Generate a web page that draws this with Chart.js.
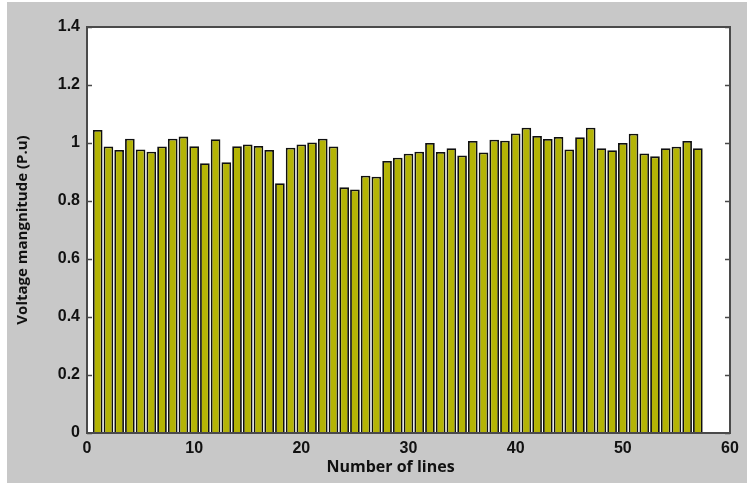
<!DOCTYPE html>
<html>
<head>
<meta charset="utf-8">
<script src="https://cdn.jsdelivr.net/npm/chart.js@4/dist/chart.umd.min.js"></script>
<style>
  html, body { margin: 0; padding: 0; background: #ffffff; }
  #wrap { width: 747px; height: 483px; position: relative; }
</style>
</head>
<body>
<div id="wrap"><canvas id="c" width="747" height="483"></canvas></div>
<script>
// Line numbers and per-line voltage magnitude (p.u.)
const lineNumbers = [1, 2, 3, 4, 5, 6, 7, 8, 9, 10, 11, 12, 13, 14, 15, 16, 17, 18, 19, 20,
  21, 22, 23, 24, 25, 26, 27, 28, 29, 30, 31, 32, 33, 34, 35, 36, 37, 38, 39, 40,
  41, 42, 43, 44, 45, 46, 47, 48, 49, 50, 51, 52, 53, 54, 55, 56, 57];
const voltage = [1.045, 0.988, 0.976, 1.015, 0.978, 0.970, 0.988, 1.015, 1.022, 0.989,
  0.930, 1.013, 0.934, 0.989, 0.995, 0.990, 0.976, 0.861, 0.984, 0.995,
  1.002, 1.015, 0.988, 0.847, 0.840, 0.887, 0.884, 0.938, 0.949, 0.963,
  0.970, 1.000, 0.969, 0.982, 0.957, 1.007, 0.967, 1.011, 1.008, 1.033,
  1.053, 1.024, 1.014, 1.021, 0.978, 1.020, 1.053, 0.982, 0.975, 1.000,
  1.032, 0.964, 0.954, 0.982, 0.987, 1.007, 0.982];
const xTicks = [0, 10, 20, 30, 40, 50, 60];
const yTicks = [0, 0.2, 0.4, 0.6, 0.8, 1, 1.2, 1.4];
const xTitle = 'Number of lines';
const yTitle = 'Voltage mangnitude (P.u)';

const points = lineNumbers.map((n, i) => ({ x: n, y: voltage[i] }));

// Gray figure background with a white axes box
const backdrop = {
  id: 'backdrop',
  beforeDraw(chart) {
    const { ctx, chartArea: a } = chart;
    ctx.save();
    ctx.fillStyle = '#ffffff';
    ctx.fillRect(0, 0, chart.width, chart.height);
    ctx.fillStyle = '#c8c8c8';
    ctx.fillRect(7, 2, chart.width - 7, chart.height - 2);
    ctx.fillStyle = '#ffffff';
    ctx.fillRect(a.left, a.top, a.right - a.left, a.bottom - a.top);
    ctx.restore();
  }
};

// Box frame, inward tick marks and the x caption
const frame = {
  id: 'frame',
  afterDatasetsDraw(chart) {
    const { ctx, chartArea: a, scales } = chart;
    ctx.save();
    ctx.strokeStyle = '#4a4a4a';
    ctx.lineWidth = 1.5;
    scales.y.ticks.forEach(t => {
      const py = Math.round(scales.y.getPixelForValue(t.value)) + 0.5;
      ctx.beginPath();
      ctx.moveTo(a.left, py); ctx.lineTo(a.left + 5, py);
      ctx.moveTo(a.right, py); ctx.lineTo(a.right - 5, py);
      ctx.stroke();
    });
    ctx.lineWidth = 2;
    ctx.strokeRect(a.left, a.top, a.right - a.left, a.bottom - a.top);
    ctx.fillStyle = '#111111';
    ctx.font = '700 16px "Open Sans", sans-serif';
    ctx.textAlign = 'center';
    ctx.textBaseline = 'middle';
    ctx.fillText(xTitle, a.left + (a.right - a.left) * 0.472, 467);
    ctx.restore();
  }
};

new Chart(document.getElementById('c'), {
  type: 'bar',
  data: {
    datasets: [{
      data: points,
      backgroundColor: '#b4b405',
      borderColor: '#101010',
      borderWidth: 1.8,
      barPercentage: 0.9,
      categoryPercentage: 1.0
    }]
  },
  options: {
    responsive: false,
    animation: false,
    devicePixelRatio: 1,
    layout: { padding: { left: 7, right: 17, top: 27, bottom: 0 } },
    plugins: { legend: { display: false }, tooltip: { enabled: false } },
    scales: {
      x: {
        type: 'linear',
        min: 0, max: 60,
        offset: false,
        afterBuildTicks: s => { s.ticks = xTicks.map(v => ({ value: v })); },
        afterFit: s => { s.height = 50; },
        grid: { display: false, drawTicks: false },
        border: { display: false },
        ticks: {
          padding: 6,
          color: '#111111',
          font: { family: '"Liberation Sans", Arial, sans-serif', size: 16, weight: 'bold' },
          maxRotation: 0
        }
      },
      y: {
        min: 0, max: 1.4,
        afterBuildTicks: s => { s.ticks = yTicks.map(v => ({ value: v })); },
        afterFit: s => { s.width = 80; },
        grid: { display: false, drawTicks: false },
        border: { display: false },
        ticks: {
          padding: 7,
          color: '#111111',
          font: { family: '"Liberation Sans", Arial, sans-serif', size: 16, weight: 'bold' },
          callback: v => String(Math.round(v * 10) / 10)
        },
        title: {
          display: true,
          text: yTitle,
          color: '#111111',
          padding: { top: 7, bottom: 0 },
          font: { family: '"Open Sans", sans-serif', size: 15, weight: '700' }
        }
      }
    }
  },
  plugins: [backdrop, frame]
});
</script>
</body>
</html>
